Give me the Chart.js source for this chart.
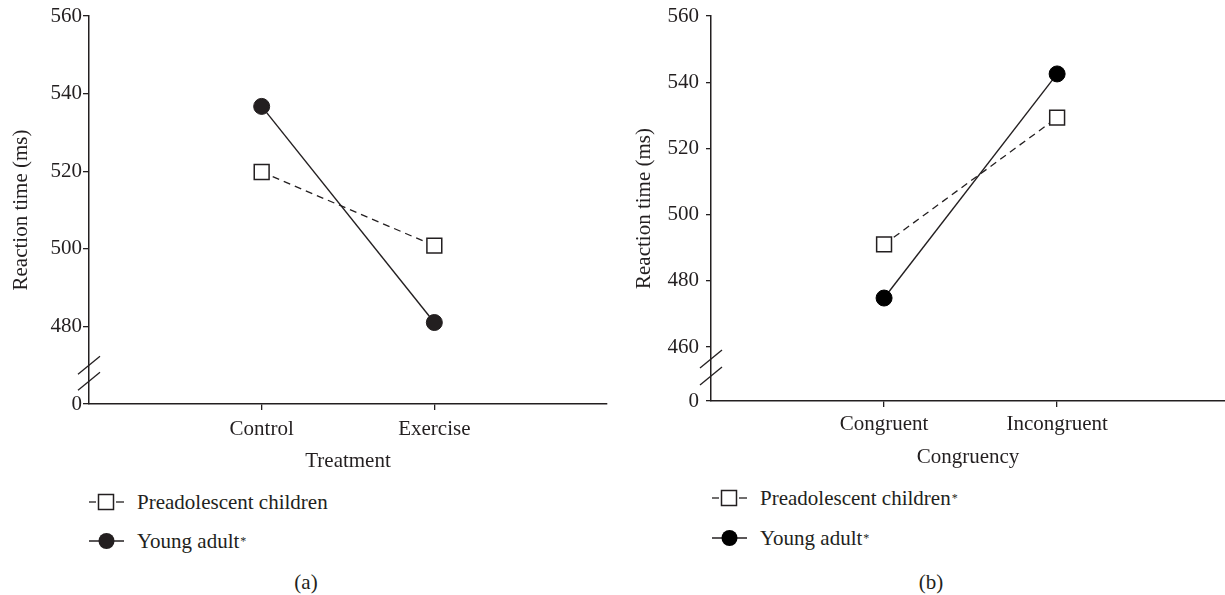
<!DOCTYPE html>
<html>
<head>
<meta charset="utf-8">
<script src="https://cdn.jsdelivr.net/npm/chart.js@4.4.0/dist/chart.umd.min.js"></script>
<style>
  body { margin: 0; background: #fff; width: 1225px; height: 595px; position: relative; overflow: hidden;
         font-family: 'Liberation Serif', 'DejaVu Serif', serif; color: #231f20; }
  .panel { position: absolute; top: 0; height: 480px; }
  .legend { position: absolute; font-size: 21px; }
  .legend .row { position: absolute; left: 0; display: flex; align-items: center; white-space: nowrap; height: 26px; }
  .legend svg { margin-right: 13px; }
  .legend .ast { font-size: 12px; position: relative; top: -3px; margin-left: 1px; }
  .caption { position: absolute; font-size: 21px; transform: translate(-50%, -50%); }
</style>
</head>
<body>
<div class="panel" style="left:0; width:612px;"><canvas id="chartA"></canvas></div>
<div class="panel" style="left:612px; width:613px;"><canvas id="chartB"></canvas></div>

<div class="legend" style="left:89px; top:489px;">
  <div class="row" style="top:0;">
    <svg width="35" height="20"><line x1="0" y1="10" x2="7" y2="10" stroke="#231f20" stroke-width="1.3"/><line x1="27" y1="10" x2="35" y2="10" stroke="#231f20" stroke-width="1.3"/><rect x="9.5" y="2.5" width="15" height="15" fill="#fff" stroke="#231f20" stroke-width="1.5"/></svg>
    <span>Preadolescent children</span>
  </div>
  <div class="row" style="top:39px;">
    <svg width="35" height="20"><line x1="0" y1="10" x2="35" y2="10" stroke="#231f20" stroke-width="1.4"/><circle cx="17.5" cy="10" r="8" fill="#231f20"/></svg>
    <span>Young adult<span class="ast">*</span></span>
  </div>
</div>
<div class="caption" style="left:306px; top:582px;">(a)</div>

<div class="legend" style="left:712px; top:485px;">
  <div class="row" style="top:0;">
    <svg width="35" height="20"><line x1="0" y1="10" x2="7" y2="10" stroke="#231f20" stroke-width="1.3"/><line x1="27" y1="10" x2="35" y2="10" stroke="#231f20" stroke-width="1.3"/><rect x="9.5" y="2.5" width="15" height="15" fill="#fff" stroke="#231f20" stroke-width="1.5"/></svg>
    <span>Preadolescent children<span class="ast">*</span></span>
  </div>
  <div class="row" style="top:40px;">
    <svg width="35" height="20"><line x1="0" y1="10" x2="35" y2="10" stroke="#231f20" stroke-width="1.4"/><circle cx="17.5" cy="10" r="8" fill="#000"/></svg>
    <span>Young adult<span class="ast">*</span></span>
  </div>
</div>
<div class="caption" style="left:931px; top:582px;">(b)</div>

<script>
// panel (a): treatment
const treatments = ['Control', 'Exercise'];
const childrenA = [519.8, 500.8];
const adultA = [536.7, 481.0];
const tickValuesA = [460, 480, 500, 520, 540, 560];
const tickLabelsA = ['0', '480', '500', '520', '540', '560'];

// panel (b): congruency
const congruency = ['Congruent', 'Incongruent'];
const childrenB = [491.0, 529.3];
const adultB = [474.8, 542.5];
const tickValuesB = [443.7, 460, 480, 500, 520, 540, 560];
const tickLabelsB = ['0', '460', '480', '500', '520', '540', '560'];

const ink = '#231f20';
const serif = "'Liberation Serif', 'DejaVu Serif', serif";

// the little // marks on the y axis between "0" and the first real tick
const axisBreak = {
    id: 'axisBreak',
    afterDraw(chart) {
        const y = chart.scales.y;
        const o = chart.options.plugins.axisBreak;
        const yMid = (y.getPixelForValue(o.ticks[0]) + y.getPixelForValue(o.ticks[1])) / 2;
        const x = y.right;
        const ctx = chart.ctx;
        ctx.save();
        ctx.strokeStyle = ink;
        ctx.lineWidth = 1.3;
        o.offsets.forEach(off => {
            ctx.beginPath();
            ctx.moveTo(x - 11, yMid + off + 9);
            ctx.lineTo(x + 11, yMid + off - 9);
            ctx.stroke();
        });
        ctx.restore();
    }
};

function makeChart(id, cats, children, adult, tickValues, tickLabels, opts) {
    const ctx = document.getElementById(id).getContext('2d');
    return new Chart(ctx, {
        type: 'line',
        data: {
            datasets: [
                {
                    label: 'Preadolescent children',
                    data: children.map((v, i) => ({ x: i + 1, y: v })),
                    borderColor: ink,
                    borderWidth: 1.3,
                    borderDash: [7, 5],
                    pointStyle: 'rect',
                    pointRadius: 10.5,
                    pointBackgroundColor: '#fff',
                    pointBorderColor: ink,
                    pointBorderWidth: 1.5,
                    tension: 0
                },
                {
                    label: 'Young adult',
                    data: adult.map((v, i) => ({ x: i + 1, y: v })),
                    borderColor: ink,
                    borderWidth: 1.4,
                    pointStyle: 'circle',
                    pointRadius: 8,
                    pointBackgroundColor: opts.dot,
                    pointBorderColor: opts.dot,
                    pointBorderWidth: 1,
                    tension: 0
                }
            ]
        },
        options: {
            responsive: true,
            maintainAspectRatio: false,
            animation: false,
            layout: { autoPadding: false, padding: { top: 16, right: opts.padRight, bottom: 0, left: 0 } },
            plugins: {
                legend: { display: false },
                tooltip: { enabled: false },
                axisBreak: { ticks: tickValues, offsets: opts.breakOffsets }
            },
            scales: {
                x: {
                    type: 'linear',
                    min: 0,
                    max: opts.xMax,
                    afterBuildTicks: s => { s.ticks = cats.map((c, i) => ({ value: i + 1 })); },
                    afterFit: s => { s.height = opts.xHeight; },
                    ticks: {
                        callback: v => cats[v - 1],
                        color: ink,
                        font: { family: serif, size: 21 },
                        padding: opts.xTickPad,
                        maxRotation: 0
                    },
                    grid: { drawOnChartArea: false, drawTicks: true, tickLength: 6, color: ink, lineWidth: 1.3 },
                    border: { display: true, color: ink, width: 1.5 },
                    title: {
                        display: true,
                        text: opts.xTitle,
                        color: ink,
                        font: { family: serif, size: 21 },
                        padding: { top: 0, bottom: opts.xTitlePad }
                    }
                },
                y: {
                    min: tickValues[0],
                    max: 560,
                    afterBuildTicks: s => { s.ticks = tickValues.map(v => ({ value: v })); },
                    afterFit: s => {
                        s.width = opts.yWidth;
                        s.paddingTop = Math.min(s.paddingTop, 14);
                    },
                    ticks: {
                        callback: (v, i) => tickLabels[i],
                        color: ink,
                        font: { family: serif, size: 21 },
                        padding: opts.yTickPad
                    },
                    grid: { drawOnChartArea: false, drawTicks: true, tickLength: opts.yTickLen, color: ink, lineWidth: 1.3 },
                    border: { display: true, color: ink, width: 1.5 },
                    title: {
                        display: true,
                        text: 'Reaction time (ms)',
                        color: ink,
                        font: { family: serif, size: 21 },
                        padding: { top: opts.yTitlePad, bottom: 0 }
                    }
                }
            }
        },
        plugins: [axisBreak]
    });
}

makeChart('chartA', treatments, childrenA, adultA, tickValuesA, tickLabelsA, {
    dot: ink, padRight: 5, xMax: 3, xHeight: 76, xTickPad: 7, xTitle: 'Treatment', xTitlePad: 6,
    yWidth: 89, yTickPad: 1, yTickLen: 6, yTitlePad: 9, breakOffsets: [0, 16]
});
makeChart('chartB', congruency, childrenB, adultB, tickValuesB, tickLabelsB, {
    dot: '#000', padRight: 0, xMax: 2.97, xHeight: 79, xTickPad: 5, xTitle: 'Congruency', xTitlePad: 10,
    yWidth: 99, yTickPad: 7, yTickLen: 5, yTitlePad: 20, breakOffsets: [-15, 2]
});
</script>
</body>
</html>
